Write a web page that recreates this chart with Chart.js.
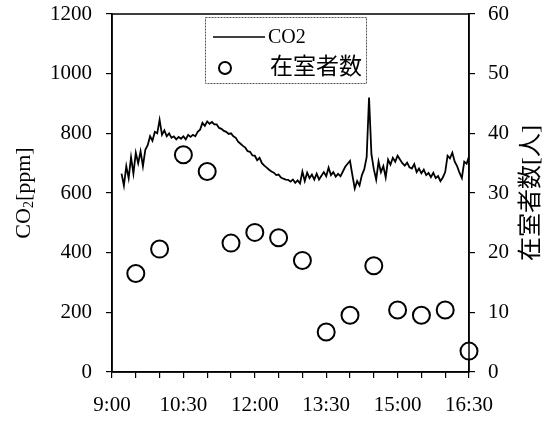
<!DOCTYPE html>
<html lang="ja">
<head>
  <meta charset="UTF-8" />
  <title>CO2と在室者数</title>
  <script src="https://cdn.jsdelivr.net/npm/chart.js"></script>
  <style>
    html, body { margin: 0; padding: 0; background: #fff; }
    #wrap { width: 552px; height: 423px; }
  </style>
</head>
<body>
  <div id="wrap"><canvas id="chart" width="552" height="423"></canvas></div>

  <script>
    // x軸は 9:00 からの経過分
    const timeLabels = ['9:00', '10:30', '12:00', '13:30', '15:00', '16:30'];

    // CO2 [ppm] : 9:12 から 3分おき
    const co2StartMin = 12;
    const co2StepMin = 3;
    const co2Values = [
      665, 625, 690, 650, 720, 665, 735, 700, 740, 690,
      745, 760, 790, 775, 805, 800, 845, 795, 810, 790,
      800, 785, 790, 780, 788, 782, 790, 780, 795, 788,
      795, 790, 805, 812, 835, 825, 840, 832, 838, 830,
      830, 818, 815, 808, 805, 798, 800, 790, 785, 772,
      765, 758, 752, 740, 738, 726, 725, 710, 718, 700,
      692, 685, 678, 672, 668, 660, 662, 652, 648, 645,
      644, 638, 645, 634, 642, 632, 672, 640, 668, 650,
      662, 645, 665, 645, 658, 670, 656, 685, 660, 670,
      655, 664, 656, 672, 688, 698, 708, 660, 615, 640,
      625, 660, 680, 720, 920, 730, 680, 645, 705, 670,
      690, 652, 712, 695, 718, 705, 725, 712, 700, 692,
      702, 686, 682, 697, 670, 682, 666, 678, 660, 667,
      653, 668, 650, 657, 640, 652, 670, 725, 716, 735,
      705, 690, 668, 650, 705, 698, 722
    ];

    // 在室者数 [人]
    const occupantMinutes = [30, 60, 90, 120, 150, 180, 210, 240, 270, 300, 330, 360, 390, 420, 450];
    const occupantValues = [16.5, 20.6, 36.4, 33.6, 21.6, 23.4, 22.5, 18.7, 6.7, 9.5, 17.8, 10.4, 9.5, 10.4, 3.5];

    const serif = '"Liberation Serif", "DejaVu Serif", serif';
    const jp = '"Liberation Serif", "Noto Sans CJK JP", sans-serif';

    const frameAndText = {
      id: 'frameAndText',
      afterDraw(chart) {
        const { ctx, chartArea: a } = chart;
        ctx.save();
        ctx.strokeStyle = '#000';
        ctx.lineWidth = 1.5;
        ctx.strokeRect(a.left, a.top, a.right - a.left, a.bottom - a.top);

        const midY = (a.top + a.bottom) / 2;
        ctx.fillStyle = '#000';
        ctx.textBaseline = 'middle';

        // 左軸タイトル CO2[ppm]（2 は下付き）
        ctx.save();
        ctx.translate(24, midY);
        ctx.rotate(-Math.PI / 2);
        ctx.font = '22px ' + serif;
        const w1 = ctx.measureText('CO').width;
        const w3 = ctx.measureText('[ppm]').width;
        ctx.font = '14px ' + serif;
        const w2 = ctx.measureText('2').width;
        let x = -(w1 + w2 + w3) / 2;
        ctx.textAlign = 'left';
        ctx.font = '22px ' + serif;
        ctx.fillText('CO', x, 0);
        ctx.font = '14px ' + serif;
        ctx.fillText('2', x + w1, 5);
        ctx.font = '22px ' + serif;
        ctx.fillText('[ppm]', x + w1 + w2, 0);
        ctx.restore();

        // 右軸タイトル
        ctx.save();
        ctx.translate(532, midY);
        ctx.rotate(-Math.PI / 2);
        ctx.font = '24px ' + jp;
        ctx.textAlign = 'center';
        ctx.fillText('在室者数[人]', 0, 0);
        ctx.restore();

        // 凡例
        ctx.save();
        ctx.strokeStyle = '#555';
        ctx.lineWidth = 1;
        ctx.setLineDash([2, 1]);
        ctx.strokeRect(205.5, 17.5, 161, 66);
        ctx.setLineDash([]);
        ctx.strokeStyle = '#000';
        ctx.lineWidth = 1.5;
        ctx.beginPath();
        ctx.moveTo(213, 37);
        ctx.lineTo(265, 37);
        ctx.stroke();
        ctx.textAlign = 'left';
        ctx.font = '20px ' + serif;
        ctx.fillText('CO2', 268, 38);
        ctx.lineWidth = 2;
        ctx.beginPath();
        ctx.arc(225, 68, 6, 0, Math.PI * 2);
        ctx.stroke();
        ctx.font = '23px ' + jp;
        ctx.fillText('在室者数', 270, 68);
        ctx.restore();

        ctx.restore();
      }
    };

    const tickFont = { family: serif, size: 21 };
    const axisGrid = { display: true, drawOnChartArea: false, drawTicks: true, tickLength: 6, color: '#000', lineWidth: 1.2 };

    const fitVertical = w => s => { s.width = w; s.paddingTop = 0; s.paddingBottom = 0; };

    new Chart(document.getElementById('chart'), {
      data: {
        datasets: [
          {
            type: 'scatter',
            label: '在室者数',
            data: occupantMinutes.map((m, i) => ({ x: m, y: occupantValues[i] })),
            yAxisID: 'y1',
            pointRadius: 8.5,
            pointBorderWidth: 2,
            pointBorderColor: '#000',
            pointBackgroundColor: '#fff',
            clip: false
          },
          {
            type: 'line',
            label: 'CO2',
            data: co2Values.map((v, i) => ({ x: co2StartMin + i * co2StepMin, y: v })),
            yAxisID: 'y',
            borderColor: '#000',
            borderWidth: 1.8,
            pointRadius: 0,
            tension: 0,
            fill: false
          }
        ]
      },
      options: {
        responsive: false,
        animation: false,
        layout: { padding: { top: 14 } },
        plugins: { legend: { display: false }, tooltip: { enabled: false } },
        scales: {
          x: {
            type: 'linear',
            min: 0, max: 450,
            afterFit: s => { s.height = 51; s.paddingLeft = 0; s.paddingRight = 0; },
            ticks: {
              stepSize: 30,
              autoSkip: false,
              maxRotation: 0,
              padding: 15,
              color: '#000',
              font: tickFont,
              callback: v => (v % 90 === 0 ? timeLabels[v / 90] : '')
            },
            grid: axisGrid,
            border: { color: '#000', width: 1.5 }
          },
          y: {
            position: 'left',
            min: 0, max: 1200,
            afterFit: fitVertical(112),
            ticks: { stepSize: 200, padding: 14, color: '#000', font: tickFont, callback: v => String(v) },
            grid: axisGrid,
            border: { color: '#000', width: 1.5 }
          },
          y1: {
            position: 'right',
            min: 0, max: 60,
            afterFit: fitVertical(83),
            ticks: { stepSize: 10, padding: 13, color: '#000', font: tickFont, callback: v => String(v) },
            grid: axisGrid,
            border: { color: '#000', width: 1.5 }
          }
        }
      },
      plugins: [frameAndText]
    });
  </script>
</body>
</html>
